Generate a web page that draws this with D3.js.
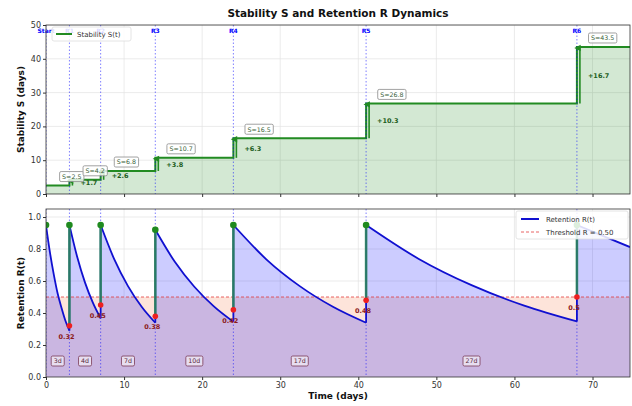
<!DOCTYPE html>
<html><head><meta charset="utf-8">
<script src="https://cdn.jsdelivr.net/npm/d3@7"></script>
<style>body{margin:0;background:#fff;} svg{display:block;font-family:"DejaVu Sans",sans-serif;}</style>
</head><body><svg id="c" width="632" height="406"></svg>
<script>
// ---------------- data ----------------
const reviewTimes = [0, 3, 7, 14, 24, 41, 68];
const reviewNames = ["Start", "R1", "R2", "R3", "R4", "R5", "R6"];
const stability = [2.5, 4.2, 6.8, 10.7, 16.5, 26.8, 43.5];
const stabilityLabels = ["S=2.5", "S=4.2", "S=6.8", "S=10.7", "S=16.5", "S=26.8", "S=43.5"];
const gainLabels = ["+1.7", "+2.6", "+3.8", "+6.3", "+10.3", "+16.7"];
const retentionAfter = [0.95, 0.95, 0.95, 0.92, 0.95, 0.95, 0.95];
const retentionBefore = [0.32, 0.45, 0.38, 0.42, 0.48, 0.50];
const retentionBeforeLabels = ["0.32", "0.45", "0.38", "0.42", "0.48", "0.5"];
const intervalLabels = ["3d", "4d", "7d", "10d", "17d", "27d"];
const retentionSeg1 = [[0, 0.95], [0.5, 0.78], [1, 0.64], [1.5, 0.52], [2, 0.43], [2.5, 0.35], [3, 0.29]];
const retentionSeg2 = [[3, 0.95], [4, 0.75], [5, 0.59], [6, 0.465], [7, 0.367]];
const retentionSeg3 = [[7, 0.95], [8.75, 0.735], [10.5, 0.568], [12.25, 0.439], [14, 0.339]];
const retentionSeg4 = [[14, 0.92], [16.5, 0.72], [19, 0.564], [21.5, 0.441], [24, 0.345]];
const retentionSeg5 = [[24, 0.95], [28.25, 0.734], [32.5, 0.568], [36.75, 0.439], [41, 0.339]];
const retentionSeg6 = [[41, 0.95], [47.75, 0.738], [54.5, 0.574], [61.25, 0.446], [68, 0.347]];
const retentionSeg7 = [[68, 0.95], [71.4, 0.88], [74.8, 0.812]];
const retentionSegments = [retentionSeg1, retentionSeg2, retentionSeg3, retentionSeg4, retentionSeg5, retentionSeg6, retentionSeg7];
const threshold = 0.5;
const xTicks = [0, 10, 20, 30, 40, 50, 60, 70];
const sTicks = [0, 10, 20, 30, 40, 50];
const rTicks = [0.0, 0.2, 0.4, 0.6, 0.8, 1.0];
const xMax = 74.8;

// ---------------- layout ----------------
const svg = d3.select("#c");
const L = 46, R = 630;
const top1 = 25, bot1 = 194, top2 = 209, bot2 = 377;
const x = d3.scaleLinear().domain([0, xMax]).range([L, R]);
const yS = d3.scaleLinear().domain([0, 50]).range([bot1, top1]);
const yR = d3.scaleLinear().domain([0, 1.05]).range([bot2, top2]);
const green = "#228b22";

svg.append("defs").html(`
  <clipPath id="clip1"><rect x="${L}" y="${top1}" width="${R-L}" height="${bot1-top1}"/></clipPath>
  <clipPath id="clip2"><rect x="${L}" y="${top2}" width="${R-L}" height="${bot2-top2}"/></clipPath>
  <marker id="arr" viewBox="0 0 10 10" refX="5" refY="8" markerWidth="5" markerHeight="5" orient="auto-start-reverse">
    <path d="M1,9 L5,1 L9,9 Z" fill="${green}"/></marker>`);

// title
svg.append("text").attr("x", (L+R)/2).attr("y", 17).attr("text-anchor", "middle")
  .attr("font-size", 10.5).attr("font-weight", "bold").attr("fill", "#111")
  .text("Stability S and Retention R Dynamics");

// grids
function grid(g, y, ticks, top, bot) {
  g.selectAll(".gx").data(xTicks).join("line").attr("x1", d => x(d)).attr("x2", d => x(d))
    .attr("y1", top).attr("y2", bot).attr("stroke", "#e2e2e2").attr("stroke-width", 0.7);
  g.selectAll(".gy").data(ticks).join("line").attr("x1", L).attr("x2", R)
    .attr("y1", d => y(d)).attr("y2", d => y(d)).attr("stroke", "#e2e2e2").attr("stroke-width", 0.7);
}

// ================= TOP PANEL =================
const p1 = svg.append("g").attr("clip-path", "url(#clip1)");
const g1grid = p1.append("g"); grid(g1grid, yS, sTicks, top1, bot1);
const stepPts = reviewTimes.map((t, i) => [t, stability[i]]).concat([[xMax, stability[stability.length-1]]]);
p1.append("path").datum(stepPts)
  .attr("d", d3.area().x(d => x(d[0])).y0(yS(0)).y1(d => yS(d[1])).curve(d3.curveStepAfter))
  .attr("fill", green).attr("fill-opacity", 0.2);
p1.append("path").datum(stepPts)
  .attr("d", d3.line().x(d => x(d[0])).y(d => yS(d[1])).curve(d3.curveStepAfter))
  .attr("fill", "none").attr("stroke", green).attr("stroke-width", 2);
// review verticals
p1.selectAll(".rv").data(reviewTimes).join("line")
  .attr("x1", d => x(d)).attr("x2", d => x(d)).attr("y1", top1).attr("y2", bot1)
  .attr("stroke", "blue").attr("stroke-opacity", 0.5).attr("stroke-width", 1).attr("stroke-dasharray", "1.5,2");
// gain arrows
reviewTimes.slice(1).forEach((t, k) => {
  const i = k + 1;
  p1.append("line").attr("x1", x(t) + 3).attr("x2", x(t) + 3)
    .attr("y1", yS(stability[i-1])).attr("y2", yS(stability[i]) + 1)
    .attr("stroke", green).attr("stroke-width", 1.6).attr("marker-end", "url(#arr)");
  p1.append("text").attr("x", x(t) + 11).attr("y", yS((stability[i-1] + stability[i]) / 2) + 2.5)
    .attr("font-size", 6.5).attr("font-weight", "bold").attr("fill", "#1d5e1d").text(gainLabels[k]);
});
// S labels
reviewTimes.forEach((t, i) => {
  const cx = x(t + 3.3), cy = yS(stability[i]) - 9;
  const txt = p1.append("text").attr("x", cx).attr("y", cy + 2.3).attr("text-anchor", "middle")
    .attr("font-size", 6.3).attr("fill", "#3a5f3a").text(stabilityLabels[i]);
  const w = txt.node().getComputedTextLength() + 5;
  p1.insert("rect", () => txt.node()).attr("x", cx - w/2).attr("y", cy - 5).attr("width", w).attr("height", 10)
    .attr("rx", 1.5).attr("fill", "white").attr("fill-opacity", 0.8).attr("stroke", "#8a8a8a").attr("stroke-width", 0.8);
});
// review names (not clipped, as in the reference)
reviewTimes.forEach((t, i) => {
  svg.append("text").attr("x", x(t)).attr("y", 33).attr("text-anchor", "middle")
    .attr("font-size", 6).attr("font-weight", "bold").attr("fill", "blue").text(reviewNames[i]);
});
// legend top
const lg1 = svg.append("g");
lg1.append("rect").attr("x", 52).attr("y", 27).attr("width", 79).attr("height", 14).attr("rx", 2)
  .attr("fill", "white").attr("fill-opacity", 0.85).attr("stroke", "#ddd").attr("stroke-width", 0.8);
lg1.append("line").attr("x1", 56).attr("x2", 72).attr("y1", 34).attr("y2", 34).attr("stroke", green).attr("stroke-width", 2);
lg1.append("text").attr("x", 77).attr("y", 36.5).attr("font-size", 7).attr("fill", "#333").text("Stability S(t)");

// axes top
svg.append("g").attr("transform", `translate(${L},0)`)
  .call(d3.axisLeft(yS).tickValues(sTicks).tickSize(3).tickPadding(2).tickFormat(d3.format("d")));
svg.append("g").attr("transform", `translate(0,${bot1})`)
  .call(d3.axisBottom(x).tickValues(xTicks).tickSize(3).tickFormat(""));
svg.append("rect").attr("x", L).attr("y", top1).attr("width", R-L).attr("height", bot1-top1)
  .attr("fill", "none").attr("stroke", "#333").attr("stroke-width", 0.8);
svg.append("text").attr("transform", `translate(24,${(top1+bot1)/2}) rotate(-90)`).attr("text-anchor", "middle")
  .attr("font-size", 9).attr("font-weight", "bold").attr("fill", "#111").text("Stability S (days)");

// ================= BOTTOM PANEL =================
const p2 = svg.append("g").attr("clip-path", "url(#clip2)");
const g2grid = p2.append("g"); grid(g2grid, yR, rTicks, top2, bot2);
// region below threshold
p2.append("rect").attr("x", L).attr("width", R-L).attr("y", yR(threshold)).attr("height", yR(0) - yR(threshold))
  .attr("fill", "#fde4da");
const lineR = d3.line().x(d => x(d[0])).y(d => yR(d[1])).curve(d3.curveMonotoneX);
const areaR = d3.area().x(d => x(d[0])).y0(yR(0)).y1(d => yR(d[1])).curve(d3.curveMonotoneX);
retentionSegments.forEach(seg => {
  p2.append("path").datum(seg).attr("d", areaR).attr("fill", "blue").attr("fill-opacity", 0.2);
});
// threshold
p2.append("line").attr("x1", L).attr("x2", R).attr("y1", yR(threshold)).attr("y2", yR(threshold))
  .attr("stroke", "#e03030").attr("stroke-opacity", 0.75).attr("stroke-width", 1).attr("stroke-dasharray", "3,2");
// review verticals
p2.selectAll(".rv").data(reviewTimes).join("line")
  .attr("x1", d => x(d)).attr("x2", d => x(d)).attr("y1", top2).attr("y2", bot2)
  .attr("stroke", "blue").attr("stroke-opacity", 0.5).attr("stroke-width", 1).attr("stroke-dasharray", "1.5,2");
// retention curve
retentionSegments.forEach((seg, i) => {
  p2.append("path").datum(seg).attr("d", lineR).attr("fill", "none").attr("stroke", "#1010d0").attr("stroke-width", 1.8);
  if (i > 0) {
    const prev = retentionSegments[i-1];
    p2.append("line").attr("x1", x(seg[0][0])).attr("x2", x(seg[0][0]))
      .attr("y1", yR(prev[prev.length-1][1])).attr("y2", yR(seg[0][1]))
      .attr("stroke", "#1010d0").attr("stroke-width", 1.8);
  }
});
// green jumps
reviewTimes.slice(1).forEach((t, k) => {
  p2.append("line").attr("x1", x(t)).attr("x2", x(t)).attr("y1", yR(retentionBefore[k])).attr("y2", yR(retentionAfter[k+1]))
    .attr("stroke", "#2e8b57").attr("stroke-width", 2.6).attr("stroke-opacity", 0.85);
});
// red dots + labels
reviewTimes.slice(1).forEach((t, k) => {
  p2.append("circle").attr("cx", x(t)).attr("cy", yR(retentionBefore[k])).attr("r", 2.8).attr("fill", "#ee2020");
  p2.append("text").attr("x", x(t) - 3).attr("y", yR(retentionBefore[k]) + 13).attr("text-anchor", "middle")
    .attr("font-size", 6.5).attr("font-weight", "bold").attr("fill", "#8b1a1a").text(retentionBeforeLabels[k]);
});
// green dots
reviewTimes.forEach((t, i) => {
  p2.append("circle").attr("cx", x(t)).attr("cy", yR(retentionAfter[i])).attr("r", 3.3).attr("fill", "#1f8a1f");
});
// interval labels
reviewTimes.slice(1).forEach((t, k) => {
  const cx = x((reviewTimes[k] + t) / 2), cy = yR(0.1);
  const txt = p2.append("text").attr("x", cx).attr("y", cy + 2.3).attr("text-anchor", "middle")
    .attr("font-size", 6.3).attr("fill", "#5a2a3a").text(intervalLabels[k]);
  const w = txt.node().getComputedTextLength() + 5;
  p2.insert("rect", () => txt.node()).attr("x", cx - w/2).attr("y", cy - 5).attr("width", w).attr("height", 10)
    .attr("rx", 1.5).attr("fill", "white").attr("fill-opacity", 0.55).attr("stroke", "#7a3a55").attr("stroke-width", 0.8);
});
// legend bottom
const lg2 = svg.append("g");
lg2.append("rect").attr("x", 516).attr("y", 211).attr("width", 112).attr("height", 28).attr("rx", 2)
  .attr("fill", "white").attr("fill-opacity", 0.85).attr("stroke", "#ddd").attr("stroke-width", 0.8);
lg2.append("line").attr("x1", 521).attr("x2", 539).attr("y1", 219).attr("y2", 219).attr("stroke", "#1010d0").attr("stroke-width", 2);
lg2.append("text").attr("x", 546).attr("y", 221.5).attr("font-size", 7).attr("fill", "#333").text("Retention R(t)");
lg2.append("line").attr("x1", 521).attr("x2", 539).attr("y1", 232).attr("y2", 232).attr("stroke", "#e03030")
  .attr("stroke-opacity", 0.75).attr("stroke-width", 1).attr("stroke-dasharray", "3,2");
lg2.append("text").attr("x", 546).attr("y", 234.5).attr("font-size", 7).attr("fill", "#333").text("Threshold R = 0.50");

// axes bottom
svg.append("g").attr("transform", `translate(${L},0)`)
  .call(d3.axisLeft(yR).tickValues(rTicks).tickSize(3).tickPadding(2).tickFormat(d3.format(".1f")));
svg.append("g").attr("transform", `translate(0,${bot2})`)
  .call(d3.axisBottom(x).tickValues(xTicks).tickSize(3).tickPadding(2).tickFormat(d3.format("d")));
svg.append("rect").attr("x", L).attr("y", top2).attr("width", R-L).attr("height", bot2-top2)
  .attr("fill", "none").attr("stroke", "#333").attr("stroke-width", 0.8);
svg.append("text").attr("transform", `translate(24,${(top2+bot2)/2}) rotate(-90)`).attr("text-anchor", "middle")
  .attr("font-size", 9).attr("font-weight", "bold").attr("fill", "#111").text("Retention R(t)");
svg.append("text").attr("x", (L+R)/2).attr("y", 399).attr("text-anchor", "middle")
  .attr("font-size", 9).attr("font-weight", "bold").attr("fill", "#111").text("Time (days)");

svg.selectAll(".domain").remove();
svg.selectAll(".tick text").attr("font-size", 8).attr("fill", "#333").attr("font-family", "DejaVu Sans");
svg.selectAll(".tick line").attr("stroke", "#333");
</script></body></html>
